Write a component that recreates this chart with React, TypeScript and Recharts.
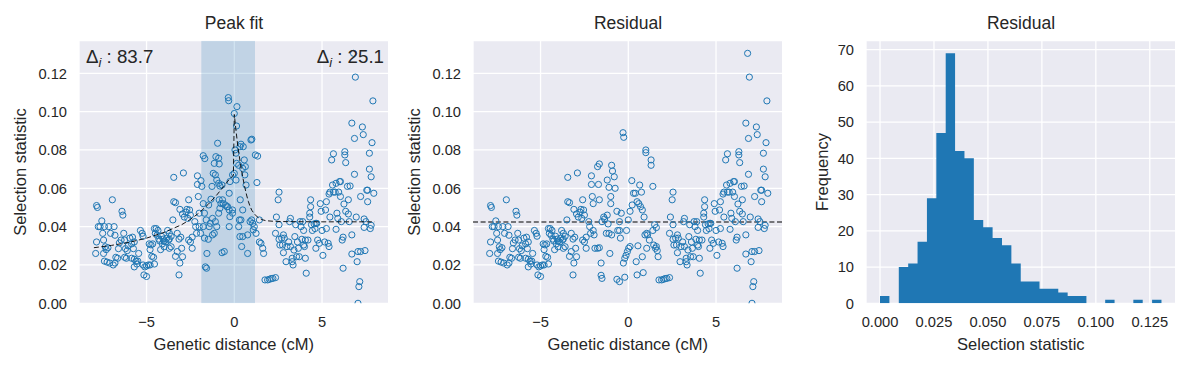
import React from 'react';
import {
  ComposedChart,
  Scatter,
  Area,
  XAxis,
  YAxis,
  CartesianGrid,
  ReferenceArea,
  ReferenceLine,
  Label,
} from 'recharts';

// ---------------- data ----------------
// points shared by both scatter panels (outside the peak window)
const outerLeftPoints: [number, number][] = [
  [-7.9, 0.026], [-7.85, 0.051], [-7.8, 0.05], [-7.85, 0.032], [-7.75, 0.04], [-7.65, 0.04], [-7.55, 0.043],
  [-7.5, 0.0365], [-7.4, 0.04], [-7.45, 0.033], [-7.35, 0.0295], [-7.3, 0.028], [-7.2, 0.029], [-7.45, 0.026],
  [-7.4, 0.022], [-7.25, 0.0215], [-7.15, 0.04], [-7.1, 0.021], [-7.05, 0.0365], [-6.95, 0.054], [-6.9, 0.02],
  [-6.85, 0.04], [-6.8, 0.0355], [-6.8, 0.021], [-6.75, 0.024], [-6.65, 0.0235], [-6.6, 0.0285], [-6.55, 0.0315],
  [-6.4, 0.048], [-6.35, 0.046], [-6.45, 0.033], [-6.3, 0.0365], [-6.25, 0.033], [-6.25, 0.024], [-6.2, 0.0285],
  [-6.1, 0.0275], [-6.05, 0.03], [-6.15, 0.0235], [-5.95, 0.034], [-5.85, 0.031], [-5.8, 0.0345], [-5.75, 0.0285],
  [-5.7, 0.032], [-5.85, 0.0235], [-5.7, 0.023], [-5.6, 0.022], [-5.55, 0.0205], [-5.5, 0.022], [-5.7, 0.019],
  [-5.35, 0.038], [-5.25, 0.0365], [-5.2, 0.035], [-5.45, 0.026], [-5.2, 0.02], [-5.1, 0.019], [-5.0, 0.0195],
  [-5.15, 0.0148], [-5.0, 0.014], [-4.9, 0.02], [-4.8, 0.02], [-4.7, 0.0245], [-4.6, 0.024], [-4.55, 0.0205],
  [-4.85, 0.031], [-4.75, 0.0305], [-4.65, 0.031], [-4.8, 0.028],
  [-4.55, 0.039], [-4.45, 0.039], [-4.35, 0.038], [-4.5, 0.0365], [-4.4, 0.0355], [-4.3, 0.0335], [-4.25, 0.0325],
  [-4.15, 0.035], [-4.1, 0.031], [-4.05, 0.0335], [-4.0, 0.0325], [-3.9, 0.032], [-3.85, 0.034], [-3.75, 0.033],
  [-3.7, 0.0335], [-4.2, 0.028], [-4.0, 0.0295], [-3.8, 0.038], [-3.7, 0.0365], [-3.6, 0.035], [-3.6, 0.0295],
  [-3.7, 0.0287], [-3.5, 0.0435], [-3.45, 0.053], [-3.35, 0.0525], [-3.45, 0.0657],
  [-3.35, 0.0245], [-3.25, 0.027], [-3.25, 0.0365], [-3.15, 0.0335], [-3.05, 0.0345], [-3.15, 0.0148],
  [-3.1, 0.021], [-3.0, 0.0287], [-2.95, 0.0243], [-2.9, 0.068], [-3.1, 0.049], [-2.95, 0.0466], [-2.85, 0.045],
  [-2.75, 0.0476], [-2.7, 0.049], [-2.6, 0.054], [-2.55, 0.0487], [-2.65, 0.0443], [-2.5, 0.046], [-2.6, 0.033],
  [-2.5, 0.032], [-2.4, 0.0345], [-2.4, 0.0287], [-2.25, 0.0426], [-2.2, 0.04], [-2.1, 0.0665], [-2.1, 0.062],
  [-2.05, 0.0557], [-2.15, 0.0365],
];

const outerRightPoints: [number, number][] = [
  [1.75, 0.0122], [1.9, 0.0122], [2.0, 0.0125], [2.1, 0.0129], [2.2, 0.013], [2.35, 0.0134],
  [2.35, 0.0365], [2.4, 0.045], [2.5, 0.054], [2.55, 0.058], [2.55, 0.041], [2.55, 0.0334], [2.6, 0.0304],
  [2.7, 0.034], [2.75, 0.0304], [2.8, 0.0357], [2.85, 0.034], [2.8, 0.0264], [2.95, 0.0217], [3.0, 0.0296],
  [3.1, 0.032], [3.15, 0.0426], [3.2, 0.0443], [3.2, 0.0296], [3.3, 0.0235], [3.3, 0.0217], [3.35, 0.02],
  [3.4, 0.0278], [3.45, 0.0348], [3.5, 0.041], [3.55, 0.0243], [3.6, 0.032], [3.65, 0.0287], [3.7, 0.0243],
  [3.75, 0.0426], [3.8, 0.04], [3.85, 0.0334], [3.9, 0.0426], [3.95, 0.0304], [4.0, 0.0296], [4.05, 0.033],
  [3.95, 0.038], [4.05, 0.0235], [4.1, 0.0157], [4.2, 0.033], [4.3, 0.045], [4.35, 0.054], [4.35, 0.0504],
  [4.3, 0.047], [4.4, 0.041], [4.45, 0.038], [4.55, 0.0414], [4.6, 0.039], [4.65, 0.0417], [4.7, 0.0417],
  [4.75, 0.033], [4.65, 0.0287], [4.85, 0.0313], [4.9, 0.052], [4.95, 0.048], [5.0, 0.038], [5.05, 0.025],
  [5.15, 0.032], [5.2, 0.0487], [5.25, 0.053], [5.25, 0.039], [5.35, 0.0313], [5.4, 0.0296], [5.45, 0.045],
  [5.4, 0.057], [5.45, 0.058], [5.55, 0.0748], [5.6, 0.0617], [5.65, 0.078], [5.65, 0.058], [5.75, 0.058],
  [5.8, 0.0626], [5.8, 0.0386], [5.85, 0.047], [5.9, 0.0443], [5.95, 0.058], [6.0, 0.0635], [6.05, 0.0635],
  [6.05, 0.0557], [6.1, 0.0426], [6.15, 0.033], [6.2, 0.0345], [6.2, 0.0183], [6.3, 0.0791], [6.3, 0.0774],
  [6.35, 0.0734], [6.25, 0.0518], [6.35, 0.048], [6.45, 0.061], [6.5, 0.054], [6.5, 0.0466], [6.55, 0.0426],
  [6.6, 0.0612], [6.7, 0.0257], [6.7, 0.0357], [6.8, 0.1304], [6.7, 0.094], [6.85, 0.086], [6.85, 0.0673],
  [6.9, 0.118], [6.95, 0.045], [7.0, 0.0217], [7.05, 0.027], [7.1, 0.0087], [7.15, 0.0113], [7.05, 0.0],
  [7.2, 0.027], [7.2, 0.0557], [7.3, 0.092], [7.35, 0.088], [7.4, 0.044], [7.4, 0.0396], [7.45, 0.0275],
  [7.5, 0.0426], [7.55, 0.059], [7.6, 0.059], [7.6, 0.053], [7.7, 0.0783], [7.7, 0.07], [7.75, 0.039],
  [7.8, 0.0407], [7.8, 0.066], [7.85, 0.0838], [7.9, 0.1056], [7.95, 0.0574],
];

// raw values inside the peak window (left panel)
const peakRawPoints: [number, number][] = [
  [-1.77, 0.077], [-1.68, 0.0755], [-1.9, 0.064], [-1.85, 0.061], [-2.0, 0.047], [-1.77, 0.052], [-1.7, 0.047],
  [-1.6, 0.0435], [-1.77, 0.04], [-2.0, 0.04], [-1.92, 0.0365], [-1.7, 0.034], [-1.56, 0.026], [-1.65, 0.019],
  [-1.58, 0.0183], [-1.48, 0.0334], [-1.43, 0.04], [-1.37, 0.0417], [-1.46, 0.0513], [-1.33, 0.0543],
  [-1.27, 0.061], [-1.2, 0.0678], [-1.14, 0.073], [-1.05, 0.0765], [-0.95, 0.0835], [-0.89, 0.0757],
  [-0.86, 0.0727], [-1.08, 0.067], [-1.0, 0.0643], [-0.89, 0.0626], [-0.82, 0.0612], [-0.7, 0.0617],
  [-0.86, 0.054], [-0.76, 0.052], [-0.67, 0.054], [-0.63, 0.052], [-0.51, 0.0513], [-0.42, 0.0504],
  [-1.24, 0.0443], [-1.08, 0.0426], [-1.0, 0.04], [-1.14, 0.0365], [-0.89, 0.047], [-0.82, 0.0496],
  [-1.24, 0.0357], [-0.7, 0.0264], [-0.57, 0.027], [-0.29, 0.0574], [-0.25, 0.0635], [-0.38, 0.0504],
  [-0.29, 0.0487], [-0.34, 0.1073], [-0.32, 0.1057], [-0.1, 0.0487], [-0.1, 0.047], [-0.25, 0.0452],
  [-0.29, 0.04], [0.0, 0.099], [0.15, 0.1026], [0.13, 0.0925], [0.04, 0.08], [0.1, 0.0783], [0.13, 0.073],
  [0.25, 0.072], [0.32, 0.0817], [0.38, 0.083], [0.51, 0.0817], [0.57, 0.0748], [0.48, 0.0704], [0.63, 0.0713],
  [0.6, 0.067], [0.95, 0.0852], [1.0, 0.0856], [0.67, 0.0617], [0.0, 0.0678], [-0.1, 0.067], [0.1, 0.0643],
  [0.29, 0.0435], [0.38, 0.0435], [0.34, 0.054], [0.48, 0.0487], [0.25, 0.04], [0.32, 0.0348], [0.42, 0.0296],
  [0.76, 0.026], [0.48, 0.0348], [0.9, 0.0426], [0.99, 0.0435], [1.05, 0.0417], [1.14, 0.04], [1.08, 0.0383],
  [1.24, 0.0365], [0.76, 0.0357], [1.2, 0.0774], [1.33, 0.0768], [1.29, 0.063], [1.43, 0.0435], [1.43, 0.032],
  [1.52, 0.0313], [1.62, 0.0287], [1.67, 0.026],
];

// residual values inside the peak window (middle panel)
const peakResidualPoints: [number, number][] = [
  [-2.0, 0.052], [-2.0, 0.038], [-1.95, 0.0357], [-1.9, 0.0287], [-1.75, 0.0287], [-1.65, 0.029],
  [-1.75, 0.0713], [-1.65, 0.0727], [-1.7, 0.062], [-1.65, 0.054], [-1.55, 0.021], [-1.5, 0.0426], [-1.4, 0.045],
  [-1.35, 0.044], [-1.2, 0.046], [-1.15, 0.0414], [-1.1, 0.0365], [-1.25, 0.0365], [-1.2, 0.0643], [-1.1, 0.0605],
  [-1.0, 0.0557], [-0.95, 0.072], [-0.9, 0.069], [-0.8, 0.066], [-0.75, 0.06], [-1.0, 0.052], [-0.95, 0.0357],
  [-1.55, 0.0146], [-1.5, 0.013], [-1.05, 0.026], [-0.65, 0.048], [-0.6, 0.038], [-0.5, 0.038], [-0.45, 0.034],
  [-0.4, 0.047], [-0.5, 0.0426], [-0.3, 0.089], [-0.26, 0.0866], [-0.65, 0.0125], [-0.5, 0.0113], [-0.2, 0.0136],
  [-0.28, 0.021], [-0.2, 0.0235], [-0.13, 0.025], [-0.05, 0.027], [0.02, 0.0287], [0.1, 0.0296], [-0.1, 0.038],
  [0.0, 0.0435], [0.1, 0.048], [0.2, 0.064], [0.22, 0.0513],
  [0.3, 0.0574], [0.4, 0.0574], [0.5, 0.053], [0.6, 0.052], [0.65, 0.0617], [0.75, 0.058], [0.7, 0.0504],
  [0.8, 0.0487], [0.9, 0.045], [0.55, 0.03], [0.45, 0.0217], [0.5, 0.0148], [0.8, 0.0243], [0.85, 0.016],
  [0.95, 0.0357], [1.05, 0.0365], [1.1, 0.0357], [1.2, 0.033], [1.05, 0.0287], [1.0, 0.08], [1.0, 0.0786],
  [1.3, 0.0748], [1.3, 0.072], [1.4, 0.061], [1.4, 0.038], [1.5, 0.041], [1.6, 0.0395], [1.45, 0.0304],
  [1.55, 0.0287], [1.6, 0.0296], [1.65, 0.0275], [1.7, 0.0243],
];

// fitted peak curve
const fitCurve: [number, number][] = [
  [-8.0, 0.029], [-7.0, 0.0302], [-6.0, 0.0318], [-5.0, 0.034], [-4.0, 0.037], [-3.0, 0.041], [-2.5, 0.0438],
  [-2.0, 0.0472], [-1.5, 0.0515], [-1.0, 0.0565], [-0.6, 0.061], [-0.3, 0.0645], [-0.05, 0.0668], [0.0, 0.0985],
  [0.1, 0.09], [0.2, 0.082], [0.3, 0.0758], [0.4, 0.07], [0.5, 0.065], [0.6, 0.0605], [0.7, 0.0565],
  [0.8, 0.0532], [0.9, 0.0505], [1.0, 0.0485], [1.2, 0.046], [1.4, 0.0445], [1.6, 0.0436], [1.8, 0.0431],
  [2.2, 0.0428], [3.0, 0.0426], [5.0, 0.0425], [8.0, 0.0425],
];

const residualBaseline = 0.0424;
const peakWindow: [number, number] = [-1.88, 1.18];
const deltaLeft = '83.7';
const deltaRight = '25.1';

const distanceTicks = [-5, 0, 5];
const statisticTicks = [0, 0.02, 0.04, 0.06, 0.08, 0.1, 0.12];

// histogram of the residual (30 bins)
const histBinStart = 0;
const histBinWidth = 0.004347;
const histCounts = [2, 0, 10, 11, 17, 29, 47, 69, 42, 40, 23, 21, 18, 16, 11, 6, 6, 4, 4, 3, 2, 2, 0, 0, 1, 0, 0, 1, 0, 1];
const histXTicks = [0, 0.025, 0.05, 0.075, 0.1, 0.125];
const histYTicks = [0, 10, 20, 30, 40, 50, 60, 70];

// ---------------- styling ----------------
const FONT = '"Liberation Sans", Arial, Helvetica, sans-serif';
const TEXT = '#262626';
const BLUE = '#1f77b4';
const BG = '#EAEAF2';

const toXY = (arr: [number, number][]) => arr.map(([x, y]) => ({ x, y }));
const rawData = toXY([...outerLeftPoints, ...peakRawPoints, ...outerRightPoints]);
const residualData = toXY([...outerLeftPoints, ...peakResidualPoints, ...outerRightPoints]);
const fitData = toXY(fitCurve);
const histData = [
  ...histCounts.map((c, i) => ({ x: histBinStart + i * histBinWidth, c })),
  { x: histBinStart + histCounts.length * histBinWidth, c: histCounts[histCounts.length - 1] },
];

const tickStyle = { fontSize: 14.7, fill: TEXT, fontFamily: FONT };
const labelStyle = { fontSize: 16.5, fill: TEXT, fontFamily: FONT };
const fmtDist = (v: number) => (v < 0 ? `\u2212${Math.abs(v)}` : `${v}`);

const renderCircle = (p: any) => (
  <circle cx={p.cx} cy={p.cy} r={3.1} fill="none" stroke={BLUE} strokeWidth={1} />
);
const renderNothing = () => <g />;

const CHART_W = 400;
const CHART_H = 368;
const MARGIN = { top: 40.7, right: 11.3, bottom: 0, left: 0 };

function ScatterPanel({ data, showFit }: { data: { x: number; y: number }[]; showFit: boolean }) {
  return (
    <ComposedChart width={CHART_W} height={CHART_H} margin={MARGIN}>
      <CartesianGrid fill={BG} stroke="#ffffff" strokeWidth={1.3} />
      <XAxis
        type="number"
        dataKey="x"
        domain={[-8.85, 8.8]}
        ticks={distanceTicks}
        interval={0}
        tickFormatter={fmtDist}
        axisLine={false}
        tickLine={false}
        tickMargin={7}
        height={64.7}
        tick={tickStyle}
        allowDataOverflow
      >
        <Label value="Genetic distance (cM)" position="insideBottom" offset={18} {...labelStyle} />
      </XAxis>
      <YAxis
        type="number"
        dataKey="y"
        domain={[0, 0.137]}
        ticks={statisticTicks}
        interval={0}
        tickFormatter={(v: number) => v.toFixed(2)}
        axisLine={false}
        tickLine={false}
        tickMargin={6}
        width={79}
        tick={tickStyle}
        allowDataOverflow
      >
        <Label
          value="Selection statistic"
          angle={-90}
          position="insideLeft"
          offset={20.5}
          textAnchor="middle"
          {...labelStyle}
        />
      </YAxis>
      {showFit && (
        <ReferenceArea
          x1={peakWindow[0]}
          x2={peakWindow[1]}
          fill={BLUE}
          fillOpacity={0.2}
          stroke="none"
          ifOverflow="hidden"
        />
      )}
      {!showFit && (
        <ReferenceLine
          y={residualBaseline}
          stroke="#000000"
          strokeOpacity={1}
          strokeWidth={1.1}
          strokeDasharray="5 2.6"
        />
      )}
      <Scatter data={data} shape={renderCircle} isAnimationActive={false} />
      {showFit && (
        <Scatter
          data={fitData}
          shape={renderNothing}
          line={{ stroke: '#000', strokeWidth: 0.9, strokeDasharray: '5 2.6', fill: 'none' }}
          lineType="joint"
          isAnimationActive={false}
        />
      )}
    </ComposedChart>
  );
}

function HistPanel() {
  return (
    <ComposedChart width={CHART_W} height={CHART_H} margin={MARGIN} data={histData}>
      <CartesianGrid fill={BG} stroke="#ffffff" strokeWidth={1.3} />
      <XAxis
        type="number"
        dataKey="x"
        domain={[-0.0065, 0.137]}
        ticks={histXTicks}
        interval={0}
        tickFormatter={(v: number) => v.toFixed(3)}
        axisLine={false}
        tickLine={false}
        tickMargin={7}
        height={64.7}
        tick={tickStyle}
        allowDataOverflow
      >
        <Label value="Selection statistic" position="insideBottom" offset={18} {...labelStyle} />
      </XAxis>
      <YAxis
        type="number"
        domain={[0, 72.45]}
        ticks={histYTicks}
        interval={0}
        axisLine={false}
        tickLine={false}
        tickMargin={6}
        width={79}
        tick={tickStyle}
        allowDataOverflow
      >
        <Label value="Frequency" angle={-90} position="insideLeft" offset={35} textAnchor="middle" {...labelStyle} />
      </YAxis>
      <Area
        type="stepAfter"
        dataKey="c"
        fill={BLUE}
        fillOpacity={1}
        stroke="none"
        dot={false}
        activeDot={false}
        isAnimationActive={false}
      />
    </ComposedChart>
  );
}

export default function App() {
  return (
    <div
      style={{
        position: 'absolute',
        left: 0,
        top: 0,
        width: 1191,
        height: 368,
        background: '#ffffff',
        fontFamily: FONT,
        overflow: 'hidden',
      }}
    >
      <div style={{ position: 'absolute', left: 0, top: 0 }}>
        <ScatterPanel data={rawData} showFit />
      </div>
      <div style={{ position: 'absolute', left: 394.3, top: 0 }}>
        <ScatterPanel data={residualData} showFit={false} />
      </div>
      <div style={{ position: 'absolute', left: 787, top: 0 }}>
        <HistPanel />
      </div>
      <svg
        width={1191}
        height={368}
        style={{ position: 'absolute', left: 0, top: 0, pointerEvents: 'none' }}
      >
        <g fontFamily={FONT} fill={TEXT}>
          <text x={234} y={29.3} fontSize={17.5} textAnchor="middle">Peak fit</text>
          <text x={628} y={29.3} fontSize={17.5} textAnchor="middle">Residual</text>
          <text x={1021} y={29.3} fontSize={17.5} textAnchor="middle">Residual</text>
          <text x={86} y={63.3} fontSize={18.7}>
            <tspan>Δ</tspan>
            <tspan fontStyle="italic" fontSize={13} dy={4}>i</tspan>
            <tspan dy={-4}>{` : ${deltaLeft}`}</tspan>
          </text>
          <text x={384} y={63.3} fontSize={18.7} textAnchor="end">
            <tspan>Δ</tspan>
            <tspan fontStyle="italic" fontSize={13} dy={4}>i</tspan>
            <tspan dy={-4}>{` : ${deltaRight}`}</tspan>
          </text>
        </g>
      </svg>
    </div>
  );
}
